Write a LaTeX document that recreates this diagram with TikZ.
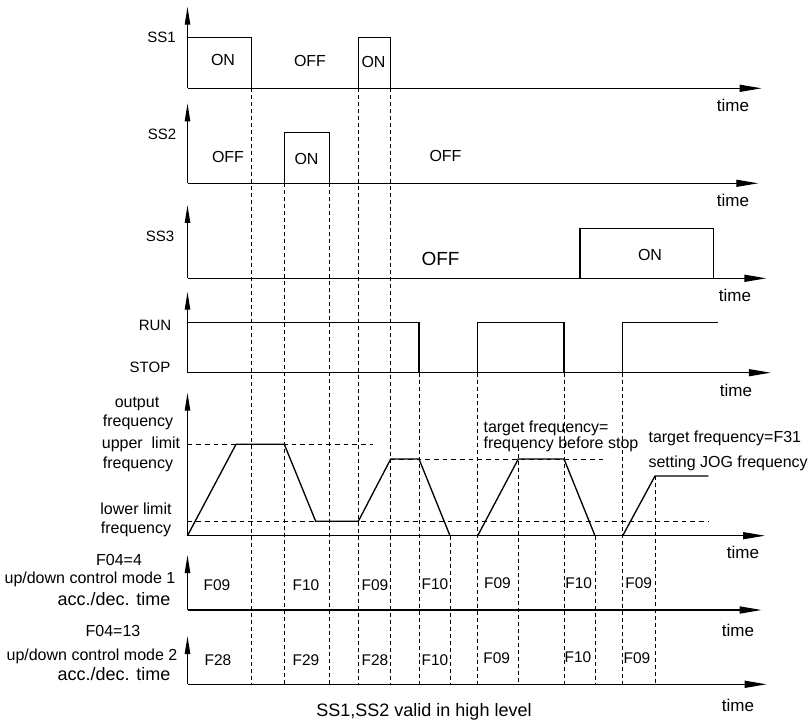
\documentclass[tikz,border=0pt]{standalone}
\usepackage{fontspec}
\setmainfont{Liberation Sans}
\usetikzlibrary{arrows.meta}
\newcommand{\fsz}[1]{\fontsize{#1}{#1}\selectfont}
\begin{document}
\begin{tikzpicture}[x=0.75pt,y=-0.75pt,
  sig/.style={line width=1pt, line join=miter},
  taxis/.style={line width=1pt, -{Triangle[length=16.5pt,width=5.25pt]}},
  vaxis/.style={line width=1pt, -{Triangle[length=13.5pt,width=4pt]}},
  guide/.style={line width=0.7pt, dash pattern=on 3pt off 2.25pt},
  hguide/.style={line width=0.7pt, dash pattern=on 3.5pt off 3pt},
  lbl/.style={inner sep=0pt, anchor=base, font=\fsz{12}},
  sslbl/.style={lbl, font=\fsz{11.25}},
  timelbl/.style={lbl, font=\fsz{12.75}},
  flbl/.style={lbl, font=\fsz{11.6}},
  biglbl/.style={lbl, font=\fsz{13.5}},
  ]
\useasboundingbox (0,0) rectangle (810,720);
\fill[white] (0,0) rectangle (810,720);

% ---------- axis origins ----------
\coordinate (o1) at (187.5,88.3);
\coordinate (o2) at (187.5,183.3);
\coordinate (o3) at (187.5,278.3);
\coordinate (o4) at (187.5,372.7);
\coordinate (o5) at (187.5,535.7);
\coordinate (o6) at (187.5,610);
\coordinate (o7) at (187.5,684.3);

% ---------- dashed guide lines ----------
\draw[guide] (251.7,88.3) -- (251.7,684.3);
\draw[guide] (284.3,183.3) -- (284.3,684.3);
\draw[guide] (329.3,183.3) -- (329.3,684.3);
\draw[guide] (358.3,88.3) -- (358.3,684.3);
\draw[guide] (390.7,88.3) -- (390.7,684.3);
\draw[guide] (419,372.7) -- (419,684.3);
\draw[guide] (450,535.7) -- (450,684.3);
\draw[guide] (477.7,372.7) -- (477.7,684.3);
\draw[guide] (518.3,440) -- (518.3,684.3);
\draw[guide] (564,372.7) -- (564,684.3);
\draw[guide] (595,535.7) -- (595,684.3);
\draw[guide] (622.7,372.7) -- (622.7,684.3);
\draw[guide] (655,476) -- (655,684.3);

\draw[hguide] (187.5,444.3) -- (373.3,444.3);
\draw[hguide] (390.7,459) -- (606.7,459);
\draw[hguide] (187.5,521.3) -- (708.3,521.3);

% ---------- axes ----------
\draw[vaxis] (o1) -- (187.5,6.7);
\draw[taxis] (o1) -- (761.7,88.3);
\draw[vaxis] (o2) -- (187.5,103.3);
\draw[taxis] (o2) -- (758.3,183.3);
\draw[vaxis] (o3) -- (187.5,205);
\draw[taxis] (o3) -- (766.4,278.3);
\draw[vaxis] (o4) -- (187.5,291.7);
\draw[taxis] (o4) -- (770.8,372.7);
\draw[vaxis] (o5) -- (187.5,392.7);
\draw[taxis] (o5) -- (765,535.7);
\draw[vaxis] (o6) -- (187.5,555);
\draw[taxis] (o6) -- (761.7,610);
\draw[vaxis] (o7) -- (187.5,636);
\draw[taxis] (o7) -- (766.7,684.3);

% ---------- waveforms ----------
% SS1
\draw[sig] (187.5,37.7) -- (251.7,37.7) -- (251.7,88.3);
\draw[sig] (358.3,88.3) -- (358.3,37.7) -- (390.7,37.7) -- (390.7,88.3);
% SS2
\draw[sig] (284.3,183.3) -- (284.3,132.7) -- (329.3,132.7) -- (329.3,183.3);
% SS3
\draw[sig] (580,278.3) -- (580,228.3) -- (713.3,228.3) -- (713.3,278.3);
% RUN/STOP
\draw[sig] (187.5,322.7) -- (419,322.7) -- (419,372.7);
\draw[sig] (477.7,372.7) -- (477.7,322.7) -- (564,322.7) -- (564,372.7);
\draw[sig] (622.7,372.7) -- (622.7,322.7) -- (717.6,322.7);
% output frequency
\draw[sig] (o5) -- (236,444.3) -- (284.3,444.3) -- (315.7,521.3) -- (358.3,521.3)
  -- (390.7,459) -- (419,459) -- (450,535.7);
\draw[sig] (477.7,535.7) -- (518.3,459) -- (564,459) -- (595,535.7);
\draw[sig] (622.7,535.7) -- (655,476) -- (708.3,476);

% ---------- labels ----------
\node[sslbl] (lss1) at (161.5,43) {SS1};
\node[lbl] (on1) at (223,65.5) {ON};
\node[lbl] (off1) at (310,66.7) {OFF};
\node[lbl] (on2) at (373.5,68) {ON};
\node[timelbl] (t1) at (733,111.7) {time};

\node[sslbl] (lss2) at (162,140) {SS2};
\node[lbl] (off2) at (228,162.7) {OFF};
\node[lbl] (on3) at (306.5,165) {ON};
\node[lbl] (off3) at (445.5,161.7) {OFF};
\node[timelbl] (t2) at (733,206.7) {time};

\node[sslbl] (lss3) at (160,241.7) {SS3};
\node[lbl, font=\fsz{14.25}] (off4) at (440.5,266) {OFF};
\node[lbl] (on4) at (650,260.7) {ON};
\node[timelbl] (t3) at (735,301.7) {time};

\node[sslbl] (lrun) at (155,330) {RUN};
\node[sslbl] (lstop) at (150,372.7) {STOP};
\node[timelbl] (t4) at (736,396.7) {time};

\node[lbl] (lof1) at (137,407) {output};
\node[lbl] (lof2) at (138,426) {frequency};
\node[lbl] (lup1) at (141,448.3) {upper\ \ limit};
\node[lbl] (lup2) at (138,468.3) {frequency};
\node[lbl] (llo1) at (136,514.5) {lower limit};
\node[lbl] (llo2) at (136,533) {frequency};
\node[lbl, anchor=base west] (tg1) at (483.3,432) {target frequency=};
\node[lbl, anchor=base west] (tg2) at (483.3,448) {frequency before stop};
\node[lbl, anchor=base west] (tj1) at (648.3,442) {target frequency=F31};
\node[lbl, anchor=base west] (tj2) at (648.3,467) {setting JOG frequency};
\node[timelbl] (t5) at (743,558) {time};

\node[lbl] (m1a) at (119,565) {F04=4};
\node[lbl] (m1b) at (90,583.3) {up/down control mode 1};
\node[biglbl] (m1c) at (114,605) {acc./dec. time};
\node[flbl] (a1) at (217,590) {F09};
\node[flbl] (a2) at (306,590) {F10};
\node[flbl] (a3) at (375,590) {F09};
\node[flbl] (a4) at (435,589) {F10};
\node[flbl] (a5) at (497.5,588) {F09};
\node[flbl] (a6) at (578.7,588) {F10};
\node[flbl] (a7) at (638.7,588) {F09};
\node[timelbl] (t6) at (738,636.7) {time};

\node[lbl] (m2a) at (113,636.7) {F04=13};
\node[lbl] (m2b) at (92,660) {up/down control mode 2};
\node[biglbl] (m2c) at (114,680) {acc./dec. time};
\node[flbl] (b1) at (218,665) {F28};
\node[flbl] (b2) at (306,665) {F29};
\node[flbl] (b3) at (375,665) {F28};
\node[flbl] (b4) at (435,665) {F10};
\node[flbl] (b5) at (496.7,663) {F09};
\node[flbl] (b6) at (578,662) {F10};
\node[flbl] (b7) at (637,663) {F09};
\node[timelbl] (t7) at (738,711) {time};

\node[biglbl] (foot) at (424,716) {SS1,SS2 valid in high level};
\end{tikzpicture}
\end{document}
